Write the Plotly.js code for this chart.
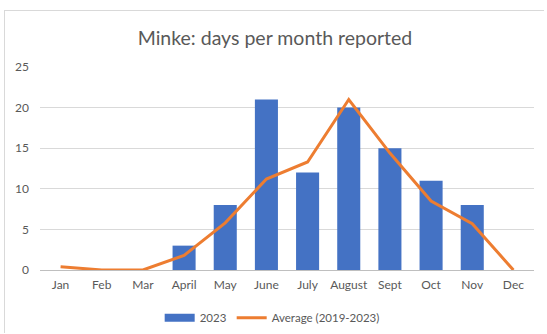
<!DOCTYPE html>
<html>
<head>
<meta charset="utf-8">
<script src="https://cdn.plot.ly/plotly-3.0.1.min.js"></script>
<style>
html,body{margin:0;padding:0;background:#fff;}
#chart{position:absolute;left:4px;top:10px;width:540px;height:323px;border:1px solid #d9d9d9;box-sizing:border-box;}
</style>
</head>
<body>
<div id="chart"></div>
<script>
const months = ["Jan","Feb","Mar","April","May","June","July","August","Sept","Oct","Nov","Dec"];
const days2023 = [0,0,0,3,8,21,12,20,15,11,8,0];
const avg2019_2023 = [0.4,0,0,1.8,5.8,11.2,13.3,21,14.4,8.5,5.7,0];
const yTicks = [0,5,10,15,20,25];

const font = "Lato, 'Noto Sans', sans-serif";
const data = [
  {type:"bar", x:months, y:days2023, name:"2023", marker:{color:"#4472C4"}, width:0.56, showlegend:false},
  {type:"scatter", mode:"lines", x:[null], y:[null], name:"2023", line:{color:"#4472C4", width:8}, showlegend:true, hoverinfo:"skip"},
  {type:"scatter", mode:"lines", x:months, y:avg2019_2023, name:"Average (2019-2023)", line:{color:"#ED7D31", width:3}}
];
const layout = {
  width:540, height:323,
  margin:{l:35, r:11, t:56, b:64},
  paper_bgcolor:"#fff", plot_bgcolor:"#fff",
  font:{family:font, color:"#595959", size:12},
  title:{text:"Minke: days per month reported", x:0.5, xanchor:"center", y:0.915, yanchor:"middle", font:{family:font, size:19.5, color:"#595959"}},
  xaxis:{type:"category", showgrid:false, ticks:"", showline:false, ticklabelstandoff:6, tickfont:{size:12, color:"#595959"}, automargin:false},
  yaxis:{range:[0,25], tickvals:yTicks, showgrid:true, gridcolor:"#d9d9d9", gridwidth:1, zeroline:true, zerolinecolor:"#bfbfbf", zerolinewidth:1, ticks:"", ticklabelstandoff:10, tickfont:{size:12, color:"#595959"}, automargin:false},
  legend:{orientation:"h", x:0.47, xanchor:"center", yref:"container", y:0.05, yanchor:"middle", itemwidth:30, font:{size:11.5, color:"#595959"}},
  showlegend:true,
  bargap:0.44
};
Plotly.newPlot("chart", data, layout, {displayModeBar:false, staticPlot:true});
</script>
</body>
</html>
